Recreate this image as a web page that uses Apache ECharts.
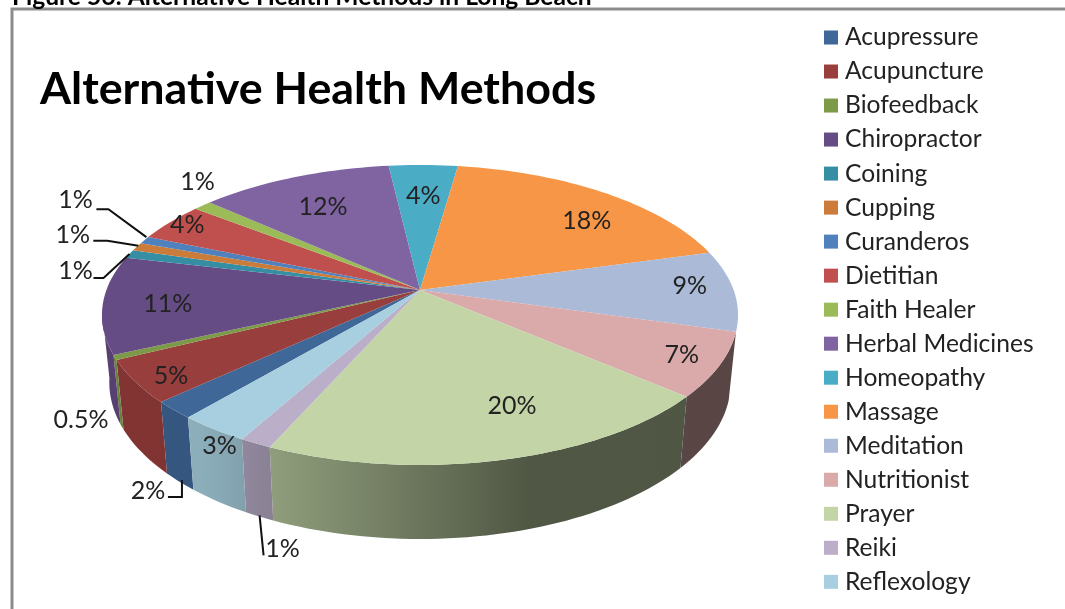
<!DOCTYPE html>
<html>
<head>
<meta charset="utf-8">
<style>html,body{margin:0;padding:0;background:#fff;overflow:hidden}#c{width:1065px;height:609px}</style>
<script src="https://cdn.jsdelivr.net/npm/echarts@6/dist/echarts.min.js"></script>
</head>
<body>
<div id="c"></div>
<script>
const categories = ['Acupressure','Acupuncture','Biofeedback','Chiropractor','Coining','Cupping','Curanderos','Dietitian','Faith Healer','Herbal Medicines','Homeopathy','Massage','Meditation','Nutritionist','Prayer','Reiki','Reflexology'];
const values = [1.9,4.6,0.5,10.5,0.9,0.9,0.8,4.2,1.1,11.5,4.1,18.4,8.7,6.9,20.3,1.4,3.1];
const valueLabels = ['2%','5%','0.5%','11%','1%','1%','1%','4%','1%','12%','4%','18%','9%','7%','20%','1%','3%'];
const colors = ['#3f6797','#983e3c','#7d9a48','#664c85','#368ea4','#cc7c3a','#4f81bd','#c0504d','#9bbb59','#8064a2','#4bacc6','#f79646','#aabad7','#d9aaa9','#c3d5a7','#baaec9','#a7cfdf'];
// label offset from the slice's rim midpoint
const labelOffsets = [[-26,81],[36,-6],[-34,62],[65,-1],[-54,17],[-64,-12],[-69,-40],[17,3],[-5,-24],[29,30],[0,31],[-17,28],[-44,-4],[-38,-10],[10,-54],[27,106],[6,17]];
// leader lines, relative to the rim midpoint
const leaders = {0:[[8,70],[8,87],[-6,87]],4:[[0,0],[-26,24],[-36,24]],5:[[1.5,-1],[-29.5,-6],[-43.5,-6]],6:[[2,-3],[-36,-31],[-48,-31]],15:[[4,72],[8,112]]};

const FONT = 'Lato, "Open Sans", sans-serif';
const startAngle = 220.2, apex = [420,290], A = 313.6, B = 145.8, K = 1/6;
const total = values.reduce((a,b)=>a+b,0);
const rad = d => d*Math.PI/180;
function rim(deg){
  const X = Math.sin(rad(deg)), Y = -Math.cos(rad(deg)), w = 1-K*Y;
  return [apex[0]+A*X/w, apex[1]+B*Y/w, Y];
}
function floorPt(deg){
  const p = rim(deg);
  return [apex[0]+(p[0]-apex[0])*0.977, p[1]+66+8*p[2]];
}
function arc(a,b,fn){
  const n = Math.max(2,Math.ceil(Math.abs(b-a)/1.5)), out=[];
  for(let i=0;i<=n;i++) out.push(fn(a+(b-a)*i/n));
  return out;
}
function shade(hex,f){
  const n=parseInt(hex.slice(1),16);
  return 'rgb('+[(n>>16)&255,(n>>8)&255,n&255].map(c=>Math.round(c*f)).join(',')+')';
}
function wallFill(hex){
  const W=1065;
  return new echarts.graphic.LinearGradient(0,0,W,0,[
    {offset:0,color:shade(hex,0.86)},{offset:200/W,color:shade(hex,0.84)},
    {offset:270/W,color:shade(hex,0.74)},{offset:530/W,color:shade(hex,0.41)},
    {offset:1,color:shade(hex,0.40)}],true);
}
const frontRanges = [[106,262],[466,622]];
const cumulative = [];
values.reduce((s,v,i)=>(cumulative[i]=s,s+v),0);

function renderSlice(i){
  return function(params,api){
    const val = api.value(0);
    const a = startAngle+cumulative[i]/total*360, b = a+val/total*360, mid=(a+b)/2;
    const children=[];
    frontRanges.forEach(r=>{
      const s=Math.max(a,r[0]), e=Math.min(b,r[1]);
      if(e>s){
        const pts = arc(s,e,d=>rim(d).slice(0,2)).concat(arc(e,s,floorPt));
        children.push({type:'polygon',shape:{points:pts},style:{fill:wallFill(colors[i])},silent:true});
      }
    });
    children.push({type:'polygon',shape:{points:[apex].concat(arc(a,b,d=>rim(d).slice(0,2)))},
      style:{fill:colors[i]},silent:true});
    const m = rim(mid);
    if(leaders[i]){
      children.push({type:'polyline',z2:20,shape:{points:leaders[i].map(o=>[m[0]+o[0],m[1]+o[1]])},
        style:{stroke:'#111',lineWidth:2,fill:'none'},silent:true});
    }
    const o=labelOffsets[i];
    children.push({type:'text',z2:30,style:{text:valueLabels[i],x:m[0]+o[0],y:m[1]+o[1],align:'center',verticalAlign:'middle',
      font:'25px '+FONT,fill:'#222'},silent:true});
    return {type:'group',children};
  };
}

const chart = echarts.init(document.getElementById('c'),null,{renderer:'canvas'});
chart.setOption({
  animation:false,
  backgroundColor:'#fff',
  title:[
    {text:'Alternative Health Methods',left:40,top:67,padding:0,textStyle:{fontFamily:FONT,fontWeight:'bold',fontSize:44.8,color:'#000'}},
    {text:'Figure 56: Alternative Health Methods in Long Beach',left:12,top:-15,padding:0,textStyle:{fontFamily:FONT,fontWeight:'bold',fontSize:24.6,color:'#000'}}
  ],
  legend:{
    orient:'vertical',left:824,top:25,height:584,itemWidth:14,itemHeight:14,itemGap:9.02,icon:'rect',selectedMode:false,padding:0,
    data:categories,
    textStyle:{fontFamily:FONT,fontSize:24.6,color:'#222',height:24,lineHeight:24,padding:[0,0,0,2]}
  },
  graphic:[
    {type:'polyline',silent:true,shape:{points:[[12,609],[12,9],[1065,9]]},style:{stroke:'#8c8c8c',lineWidth:3,fill:'none'}}
  ],
  series:categories.map((name,i)=>({
    type:'custom',name,coordinateSystem:'none',silent:true,
    itemStyle:{color:colors[i]},
    data:[[values[i]]],
    renderItem:renderSlice(i)
  }))
});
</script>
</body>
</html>
